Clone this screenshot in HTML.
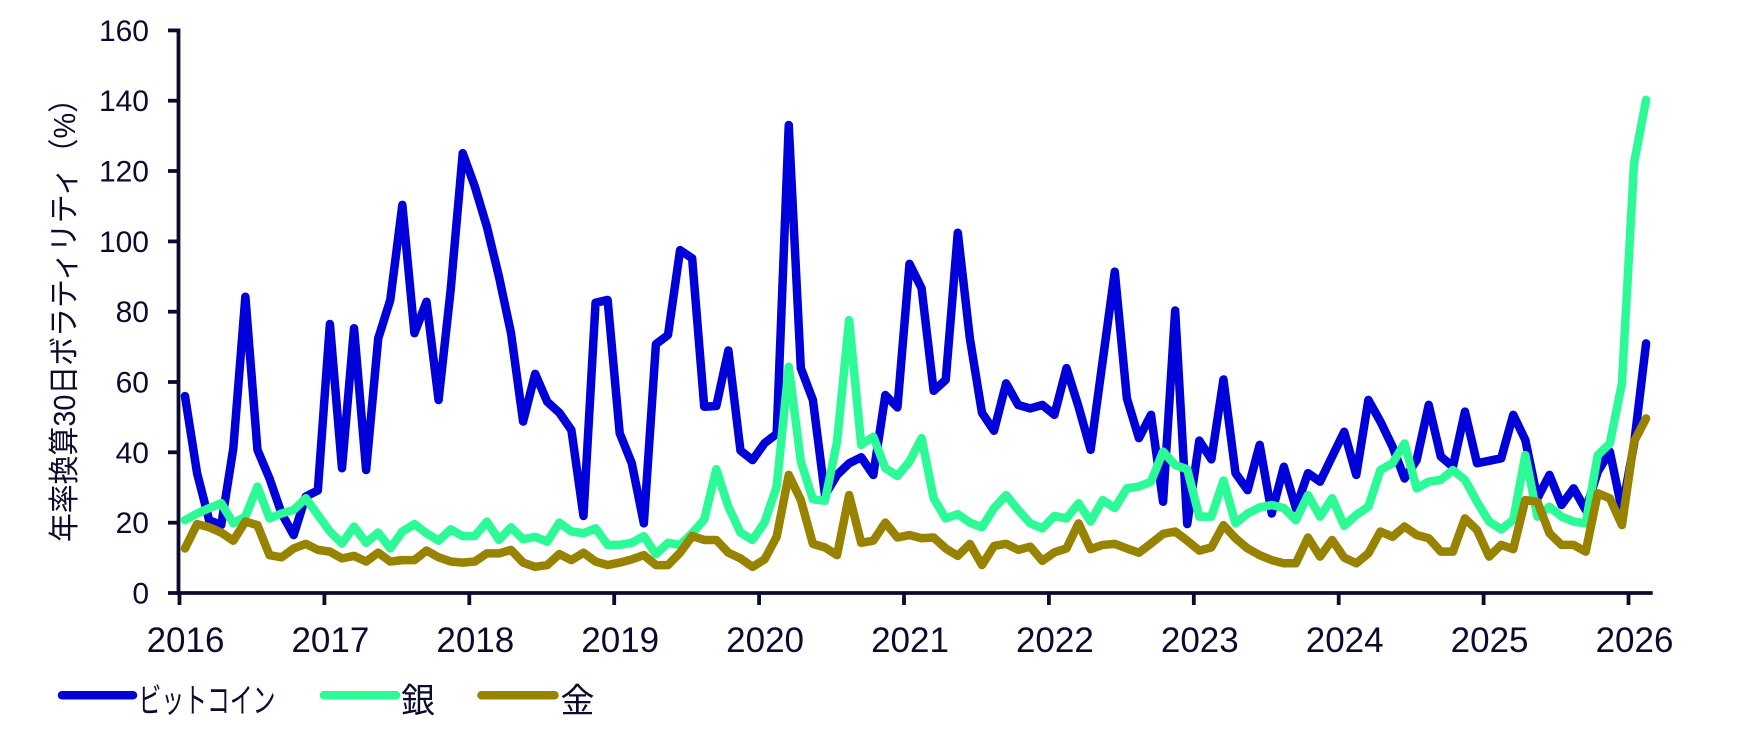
<!DOCTYPE html>
<html>
<head>
<meta charset="utf-8">
<style>
  html, body { margin: 0; padding: 0; background: #ffffff; }
  body { width: 1748px; height: 732px; overflow: hidden; }
  svg { display: block; }
  .lab { font-family: "Liberation Sans", "Noto Sans CJK JP", sans-serif; fill: #0b0b2e; }
</style>
</head>
<body>
<svg width="1748" height="732" viewBox="0 0 1748 732" xmlns="http://www.w3.org/2000/svg">
  <rect x="0" y="0" width="1748" height="732" fill="#ffffff"/>

  <!-- Series (data coords: x = month index, y = value) -->
  <g transform="matrix(12.075 0 0 -3.535 185 593)" fill="none" stroke-linejoin="round" stroke-linecap="round">
    <polyline vector-effect="non-scaling-stroke" stroke="#0000d8" stroke-width="8.5"
      points="0,55.7 1,33.9 2,20.6 3,19.2 4,40.9 5,83.8 6,40.5 7,32.4 8,22.5 9,16.4 10,27.3 11,29 12,76.1 13,35.3 14,74.9 15,34.8 16,72 17,82.9 18,109.8 19,73.5 20,82.4 21,54.6 22,85.7 23,124.4 24,115 25,103.6 26,89.5 27,73.5 28,48.5 29,62 30,54.1 31,51 32,46.1 33,21.8 34,82.1 35,82.9 36,45.2 37,36.7 38,19.7 39,70.4 40,73 41,97 42,94.7 43,52.7 44,52.9 45,68.6 46,40.3 47,37.6 48,42.4 49,45 50,132.4 51,63.6 52,54.6 53,27.7 54,33.4 55,36.7 56,38.4 57,33.4 58,56 59,52.5 60,93.1 61,86.2 62,57.2 63,60.3 64,101.9 65,72 66,51 67,45.9 68,59.3 69,53.2 70,52.2 71,53.2 72,50.4 73,63.6 74,52.7 75,40.5 76,65.7 77,90.9 78,55.1 79,43.8 80,50.4 81,25.8 82,79.9 83,19.5 84,43.1 85,37.8 86,60.4 87,33.9 88,29.1 89,41.9 90,22.5 91,35.7 92,24 93,33.9 94,31.5 95,38.6 96,45.6 97,33.4 98,54.6 99,48.5 100,41.4 101,32.4 102,37.6 103,53.2 104,38.6 105,35.7 106,51.3 107,36.7 108,37.4 109,38.1 110,50.4 111,43.3 112,26.8 113,33.4 114,24.9 115,29.6 116,23.5 117,34.3 118,40 119,23.5 120,42 121,70.6"/>
    <polyline vector-effect="non-scaling-stroke" stroke="#2cfa96" stroke-width="8.5"
      points="0,20.6 1,22.5 2,24 3,25.4 4,19.7 5,21.6 6,30.1 7,21.1 8,22.5 9,23.5 10,26.8 11,22.1 12,17.4 13,14 14,18.8 15,14.2 16,17.1 17,12.6 18,17.4 19,19.5 20,16.9 21,14.8 22,18 23,16.1 24,16.1 25,20.2 26,15 27,18.6 28,15.2 29,15.9 30,14.5 31,19.9 32,17.4 33,16.9 34,18.3 35,13.6 36,13.6 37,14.2 38,16.1 39,11 40,14.2 41,13.6 42,16.9 43,20.8 44,35 45,24.4 46,17.1 47,15 48,20 49,30.1 50,64 51,37.2 52,26.5 53,26.1 54,42.8 55,77.2 56,41.9 57,44.2 58,35.3 59,33.1 60,37.2 61,43.8 62,26.8 63,21.1 64,22.3 65,19.9 66,18.6 67,24 68,27.7 69,23.5 70,19.7 71,18.3 72,21.8 73,21.1 74,25.4 75,20.2 76,26.3 77,24 78,29.6 79,30.1 80,31.5 81,40 82,36.2 83,35 84,21.6 85,21.6 86,31.8 87,19.7 88,22.5 89,24.2 90,24.9 91,24 92,20.6 93,27.7 94,21.6 95,26.8 96,19 97,22.1 98,24.4 99,34.8 100,36.7 101,42.3 102,29.6 103,31.5 104,32 105,34.8 106,32 107,25.8 108,20.2 109,18 110,20.7 111,39 112,21.6 113,24.4 114,21.6 115,20.2 116,19.7 117,39 118,42.3 119,59.3 120,121.5 121,139.5"/>
    <polyline vector-effect="non-scaling-stroke" stroke="#978300" stroke-width="8.5"
      points="0,12.6 1,19.5 2,18.6 3,17.1 4,14.8 5,20.2 6,19.2 7,10.7 8,10.1 9,12.6 10,13.9 11,12.2 12,11.7 13,9.8 14,10.5 15,8.9 16,11.4 17,8.9 18,9.3 19,9.3 20,12 21,10.1 22,8.9 23,8.6 24,8.9 25,11.2 26,11.2 27,12.2 28,8.6 29,7.4 30,7.9 31,11 32,9.3 33,11.4 34,8.9 35,7.9 36,8.6 37,9.5 38,10.7 39,7.9 40,7.9 41,11.4 42,16.1 43,15 44,15 45,11.4 46,9.8 47,7.4 48,9.5 49,15.9 50,33.4 51,26.3 52,13.9 53,12.9 54,10.7 55,27.7 56,14.2 57,14.8 58,19.9 59,15.7 60,16.4 61,15.5 62,15.7 63,12.6 64,10.5 65,13.9 66,7.9 67,13.3 68,13.9 69,12.2 70,13.1 71,9.1 72,11.5 73,12.6 74,19.7 75,12.4 76,13.6 77,13.9 78,12.6 79,11.4 80,14 81,16.7 82,17.4 83,14.8 84,12 85,12.9 86,19.2 87,15.5 88,12.6 89,10.7 90,9.3 91,8.4 92,8.4 93,15.7 94,10.3 95,15 96,10 97,8.4 98,11.2 99,17.4 100,15.9 101,18.8 102,16.4 103,15.5 104,11.7 105,11.7 106,21.1 107,17.8 108,10.3 109,13.6 110,12.4 111,26.3 112,25.8 113,16.9 114,13.6 115,13.6 116,11.7 117,28.2 118,26.8 119,19.2 120,42.8 121,49.4"/>
  </g>

  <!-- Axes -->
  <g stroke="#0b0b2e" stroke-width="3.8" fill="none">
    <line x1="178.5" y1="28.5" x2="178.5" y2="594.5"/>
    <line x1="176.7" y1="593" x2="1652.7" y2="593"/>
    <!-- y ticks -->
    <line x1="168" y1="30.4" x2="178.5" y2="30.4"/>
    <line x1="168" y1="100.7" x2="178.5" y2="100.7"/>
    <line x1="168" y1="171.0" x2="178.5" y2="171.0"/>
    <line x1="168" y1="241.4" x2="178.5" y2="241.4"/>
    <line x1="168" y1="311.7" x2="178.5" y2="311.7"/>
    <line x1="168" y1="382.0" x2="178.5" y2="382.0"/>
    <line x1="168" y1="452.3" x2="178.5" y2="452.3"/>
    <line x1="168" y1="522.7" x2="178.5" y2="522.7"/>
    <line x1="168" y1="593" x2="178.5" y2="593"/>
    <!-- x ticks -->
    <line x1="179.5" y1="593" x2="179.5" y2="605"/>
    <line x1="324.4" y1="593" x2="324.4" y2="605"/>
    <line x1="469.3" y1="593" x2="469.3" y2="605"/>
    <line x1="614.2" y1="593" x2="614.2" y2="605"/>
    <line x1="759.1" y1="593" x2="759.1" y2="605"/>
    <line x1="904.0" y1="593" x2="904.0" y2="605"/>
    <line x1="1048.9" y1="593" x2="1048.9" y2="605"/>
    <line x1="1193.8" y1="593" x2="1193.8" y2="605"/>
    <line x1="1338.7" y1="593" x2="1338.7" y2="605"/>
    <line x1="1483.6" y1="593" x2="1483.6" y2="605"/>
    <line x1="1628.5" y1="593" x2="1628.5" y2="605"/>
  </g>

  <!-- Y tick labels -->
  <g class="lab" font-size="30" text-anchor="end">
    <text x="149" y="40.9">160</text>
    <text x="149" y="111.2">140</text>
    <text x="149" y="181.5">120</text>
    <text x="149" y="251.9">100</text>
    <text x="149" y="322.2">80</text>
    <text x="149" y="392.5">60</text>
    <text x="149" y="462.8">40</text>
    <text x="149" y="533.2">20</text>
    <text x="149" y="603.5">0</text>
  </g>

  <!-- X tick labels -->
  <g class="lab" font-size="35" text-anchor="middle">
    <text x="185.5" y="652">2016</text>
    <text x="330.4" y="652">2017</text>
    <text x="475.3" y="652">2018</text>
    <text x="620.2" y="652">2019</text>
    <text x="765.1" y="652">2020</text>
    <text x="910.0" y="652">2021</text>
    <text x="1054.9" y="652">2022</text>
    <text x="1199.8" y="652">2023</text>
    <text x="1344.7" y="652">2024</text>
    <text x="1489.6" y="652">2025</text>
    <text x="1634.5" y="652">2026</text>
  </g>

  <!-- Y axis title -->
  <text class="lab" font-size="31" transform="translate(75,542) rotate(-90)" x="0" y="0"
        textLength="458" lengthAdjust="spacingAndGlyphs">年率換算30日ボラティリティ（%）</text>

  <!-- Legend -->
  <g stroke-width="8.5" stroke-linecap="round">
    <line x1="62" y1="695.3" x2="133" y2="695.3" stroke="#0000d8"/>
    <line x1="324" y1="695.3" x2="396" y2="695.3" stroke="#2cfa96"/>
    <line x1="481.5" y1="695.3" x2="554.5" y2="695.3" stroke="#978300"/>
  </g>
  <g class="lab" font-size="34">
    <text x="138.5" y="712.5" textLength="137" lengthAdjust="spacingAndGlyphs">ビットコイン</text>
    <text x="401" y="712.5">銀</text>
    <text x="560.5" y="712.5">金</text>
  </g>
</svg>
</body>
</html>
